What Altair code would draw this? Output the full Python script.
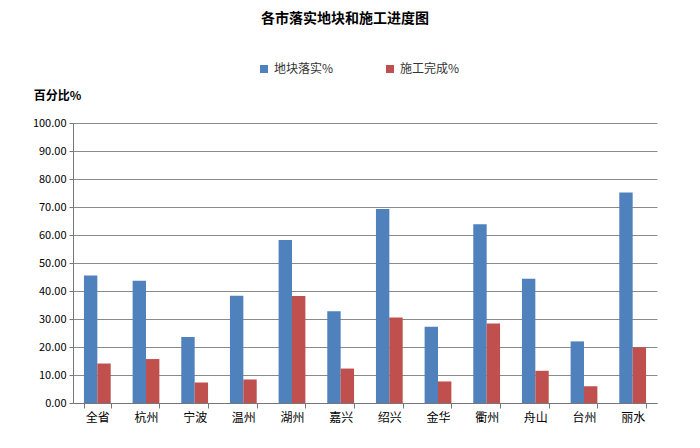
import altair as alt
import pandas as pd

cities = ["全省", "杭州", "宁波", "温州", "湖州", "嘉兴", "绍兴", "金华", "衢州", "舟山", "台州", "丽水"]
land = [45.5, 43.7, 23.6, 38.3, 58.2, 32.8, 69.3, 27.2, 63.8, 44.4, 22.0, 75.2]
construction = [14.1, 15.7, 7.3, 8.4, 38.2, 12.3, 30.5, 7.7, 28.4, 11.5, 6.0, 19.9]
series = ["地块落实%", "施工完成%"]
colors = ["#4F81BD", "#C0504D"]

rows = []
for c, a, b in zip(cities, land, construction):
    rows.append({"city": c, "series": series[0], "value": a})
    rows.append({"city": c, "series": series[1], "value": b})
df = pd.DataFrame(rows)

FONT = "Noto Sans CJK SC"

chart = alt.Chart(df).mark_bar().encode(
    x=alt.X("city:N", sort=cities,
            scale=alt.Scale(paddingInner=0.45, paddingOuter=0.225),
            axis=alt.Axis(title=None, labelAngle=0, labelFontSize=12, labelColor="#000",
                          labelFont=FONT, tickBand="extent", tickSize=5, tickColor="#777",
                          domainColor="#777", labelPadding=4, grid=False)),
    xOffset=alt.XOffset("series:N", sort=series, scale=alt.Scale(paddingInner=0, paddingOuter=0)),
    y=alt.Y("value:Q", scale=alt.Scale(domain=[0, 100], nice=False),
            axis=alt.Axis(title="百分比%", titleAngle=0, titleX=-16, titleY=-28,
                          titleAlign="center", titleBaseline="middle", titleFont=FONT,
                          titleFontSize=12, titleFontWeight="bold", titleColor="#000",
                          values=list(range(0, 101, 10)), format=".2f",
                          labelFontSize=11, labelColor="#000", labelFont=FONT,
                          tickSize=4, tickColor="#777", domainColor="#777",
                          gridColor="#8a8a8a", gridWidth=1, labelPadding=3)),
    color=alt.Color("series:N", sort=series,
                    scale=alt.Scale(domain=series, range=colors),
                    legend=alt.Legend(title=None, orient="none", direction="horizontal",
                                      legendX=185, legendY=-60, symbolType="square",
                                      symbolSize=64, labelFontSize=12, labelFont=FONT,
                                      labelColor="#333", columnPadding=50, labelOffset=4)),
).properties(
    width=584, height=280,
    title=alt.TitleParams("各市落实地块和施工进度图", fontSize=14, font=FONT,
                          fontWeight="bold", color="#000", anchor="middle", offset=37, dx=-20),
    padding={"left": 65, "top": 115, "right": 35, "bottom": 37},
    autosize=alt.AutoSizeParams(type="none"),
).configure_view(stroke=None)

chart.save("out.html", embed_options={"renderer": "svg", "actions": False})
